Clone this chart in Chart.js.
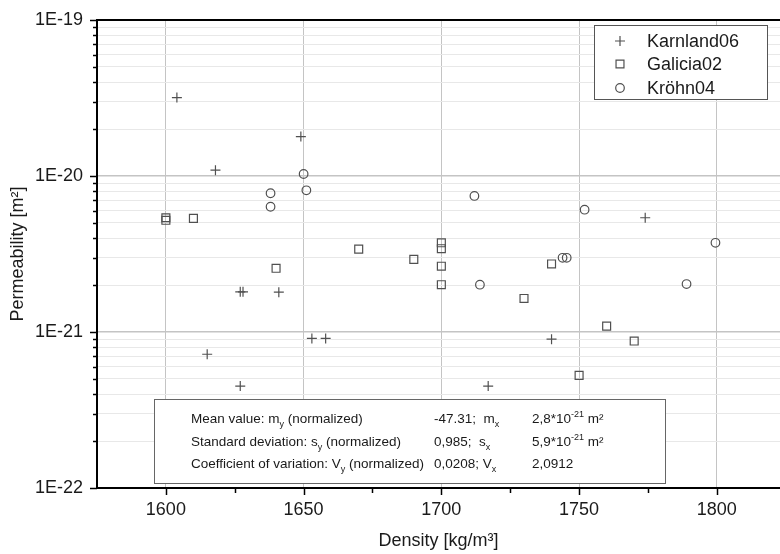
<!DOCTYPE html>
<html>
<head>
<meta charset="utf-8">
<script src="https://cdn.jsdelivr.net/npm/chart.js@4.4.1/dist/chart.umd.min.js"></script>
<style>
html,body{margin:0;padding:0;background:#fff;overflow:hidden;width:780px;height:554px;}
#wrap{width:787px;height:554px;}
canvas{display:block;}
</style>
</head>
<body>
<div id="wrap"><canvas id="c" width="787" height="554"></canvas></div>
<script>
// ---- data ----
const karnlandX = [1604, 1618, 1649, 1627, 1628, 1641, 1653, 1658, 1615, 1627, 1774, 1740, 1717];
const karnlandY = [3.18e-20, 1.09e-20, 1.79e-20, 1.81e-21, 1.81e-21, 1.8e-21, 9.1e-22, 9.1e-22, 7.2e-22, 4.5e-22, 5.4e-21, 9.0e-22, 4.5e-22];
const galiciaX = [1600, 1600, 1610, 1640, 1670, 1690, 1700, 1700, 1700, 1700, 1730, 1740, 1750, 1760, 1770];
const galiciaY = [5.4e-21, 5.2e-21, 5.35e-21, 2.56e-21, 3.4e-21, 2.92e-21, 3.73e-21, 3.42e-21, 2.64e-21, 2.01e-21, 1.64e-21, 2.73e-21, 5.27e-22, 1.09e-21, 8.75e-22];
const krohnX = [1638, 1638, 1650, 1651, 1712, 1714, 1744, 1745.5, 1752, 1789, 1799.5];
const krohnY = [7.75e-21, 6.35e-21, 1.03e-20, 8.1e-21, 7.45e-21, 2.01e-21, 2.99e-21, 2.99e-21, 6.08e-21, 2.03e-21, 3.73e-21];
const seriesNames = ['Karnland06', 'Galicia02', 'Kröhn04'];
const xMajorTicks = [1600, 1650, 1700, 1750, 1800];
const xMinorTicks = [1625, 1675, 1725, 1775];
const yMajorTicks = [1e-22, 1e-21, 1e-20, 1e-19];
const yTickLabels = ['1E-22', '1E-21', '1E-20', '1E-19'];
const statsRows = [
  [[['Mean value: m',''],['y','sub'],[' (normalized)','']], [['-47.31;  m',''],['x','sub']], [['2,8*10',''],['-21','sup'],[' m²','']]],
  [[['Standard deviation: s',''],['y','sub'],[' (normalized)','']], [['0,985;  s',''],['x','sub']], [['5,9*10',''],['-21','sup'],[' m²','']]],
  [[['Coefficient of variation: V',''],['y','sub'],[' (normalized)','']], [['0,0208; V',''],['x','sub']], [['2,0912','']]]
];

const FONT = '"Liberation Sans", Arial, sans-serif';
const MARK = '#505050';

function pts(xs, ys){ return xs.map((x,i)=>({x:x, y:ys[i]})); }
function isMajorLog(v){ const l = Math.log10(v); return Math.abs(l - Math.round(l)) < 1e-6; }

const yAll = [];
for (let e = -22; e < -19; e++) for (let k = 1; k <= 9; k++) yAll.push(k * Math.pow(10, e));
yAll.push(1e-19);
const xAll = xMajorTicks.concat(xMinorTicks).sort((a,b)=>a-b);

const frame = {
  id: 'frame',
  afterDraw(chart){
    const ctx = chart.ctx, a = chart.chartArea;
    const xs = chart.scales.x, ys = chart.scales.y;
    ctx.save();
    ctx.strokeStyle = '#000';
    ctx.lineWidth = 1.5;
    yAll.forEach(v => {
      const py = Math.round(ys.getPixelForValue(v)) + 0.5;
      const len = isMajorLog(v) ? 7 : 4;
      ctx.beginPath(); ctx.moveTo(a.left - len, py); ctx.lineTo(a.left, py); ctx.stroke();
    });
    xAll.forEach(v => {
      const px = Math.round(xs.getPixelForValue(v)) + 0.5;
      const len = xMajorTicks.includes(v) ? 7 : 5;
      ctx.beginPath(); ctx.moveTo(px, a.bottom); ctx.lineTo(px, a.bottom + len); ctx.stroke();
    });
    ctx.lineWidth = 2;
    ctx.beginPath(); ctx.moveTo(a.left - 1, a.top); ctx.lineTo(a.right, a.top); ctx.stroke();

    // legend
    ctx.fillStyle = '#fff';
    ctx.fillRect(594, 25, 173, 74);
    ctx.strokeStyle = '#555'; ctx.lineWidth = 1;
    ctx.strokeRect(594.5, 25.5, 173, 74);
    ctx.font = '18px ' + FONT;
    ctx.textBaseline = 'middle';
    ctx.textAlign = 'left';
    const rowsY = [41, 64, 88];
    chart.data.datasets.forEach((ds, i) => {
      ctx.strokeStyle = MARK; ctx.fillStyle = 'rgba(0,0,0,0)'; ctx.lineWidth = ds.borderWidth;
      Chart.helpers.drawPoint(ctx, {pointStyle: ds.pointStyle, radius: ds.pointRadius, borderWidth: ds.borderWidth}, 620, rowsY[i]);
      ctx.fillStyle = '#1a1a1a';
      ctx.fillText(ds.label, 647, rowsY[i] + 1);
    });

    // stats box
    ctx.fillStyle = '#fff';
    ctx.fillRect(154, 399, 511, 84);
    ctx.strokeStyle = '#666'; ctx.lineWidth = 1;
    ctx.strokeRect(154.5, 399.5, 511, 84);
    ctx.textBaseline = 'alphabetic';
    ctx.fillStyle = '#1a1a1a';
    const colX = [191, 434, 532];
    const baseY = [423, 446, 468];
    statsRows.forEach((row, r) => {
      row.forEach((cell, c) => {
        let x = colX[c];
        cell.forEach(seg => {
          let y = baseY[r];
          if (seg[1] === 'sub') { ctx.font = '9px ' + FONT; y += 4; }
          else if (seg[1] === 'sup') { ctx.font = '9px ' + FONT; y -= 6; }
          else ctx.font = '13.5px ' + FONT;
          ctx.fillText(seg[0], x, y);
          x += ctx.measureText(seg[0]).width;
        });
      });
    });
    ctx.restore();
  }
};

const commonDs = { borderColor: MARK, backgroundColor: 'rgba(0,0,0,0)', borderWidth: 1.2, showLine: false };

new Chart(document.getElementById('c'), {
  type: 'scatter',
  data: {
    datasets: [
      Object.assign({ label: seriesNames[0], data: pts(karnlandX, karnlandY), pointStyle: 'cross', pointRadius: 5, pointHoverRadius: 5 }, commonDs),
      Object.assign({ label: seriesNames[1], data: pts(galiciaX, galiciaY), pointStyle: 'rect', pointRadius: 5.6, pointHoverRadius: 5.6 }, commonDs),
      Object.assign({ label: seriesNames[2], data: pts(krohnX, krohnY), pointStyle: 'circle', pointRadius: 4.3, pointHoverRadius: 4.3 }, commonDs)
    ]
  },
  options: {
    responsive: false,
    animation: false,
    devicePixelRatio: 1,
    layout: { padding: { top: 20, right: 0, left: 0, bottom: 0 } },
    plugins: { legend: { display: false }, tooltip: { enabled: false } },
    scales: {
      x: {
        type: 'linear', min: 1575, max: 1823,
        afterBuildTicks: s => { s.ticks = xAll.map(v => ({value: v})); },
        afterFit: s => { s.height = 66; s.paddingLeft = 0; s.paddingRight = 0; },
        ticks: {
          autoSkip: false, maxRotation: 0, padding: 11,
          font: { family: FONT, size: 18 }, color: '#1a1a1a',
          callback: v => xMajorTicks.includes(v) ? String(v) : ''
        },
        grid: {
          drawTicks: false,
          color: c => (c.tick && xMajorTicks.includes(c.tick.value)) ? '#c4c4c4' : 'rgba(0,0,0,0)',
          lineWidth: 1
        },
        border: { display: true, color: '#000', width: 2 },
        title: { display: true, text: 'Density [kg/m³]', font: { family: FONT, size: 18 }, color: '#1a1a1a', padding: { top: 0, bottom: 2 } }
      },
      y: {
        type: 'logarithmic', min: 1e-22, max: 1e-19,
        afterBuildTicks: s => { s.ticks = yAll.map(v => ({value: v})); },
        afterFit: s => { s.width = 97; s.paddingTop = 0; s.paddingBottom = 0; },
        ticks: {
          autoSkip: false, padding: 14,
          font: { family: FONT, size: 18 }, color: '#1a1a1a',
          callback: v => { const i = yMajorTicks.findIndex(m => Math.abs(m - v) / m < 1e-6); return i >= 0 ? yTickLabels[i] : ''; }
        },
        grid: {
          drawTicks: false,
          color: c => (c.tick && isMajorLog(c.tick.value)) ? '#c4c4c4' : '#e8e8e8',
          lineWidth: c => (c.tick && isMajorLog(c.tick.value)) ? 1.5 : 1
        },
        border: { display: true, color: '#000', width: 2 },
        title: { display: true, text: 'Permeability [m²]', font: { family: FONT, size: 18 }, color: '#1a1a1a', padding: { top: 7, bottom: 0 } }
      }
    }
  },
  plugins: [frame]
});
</script>
</body>
</html>
